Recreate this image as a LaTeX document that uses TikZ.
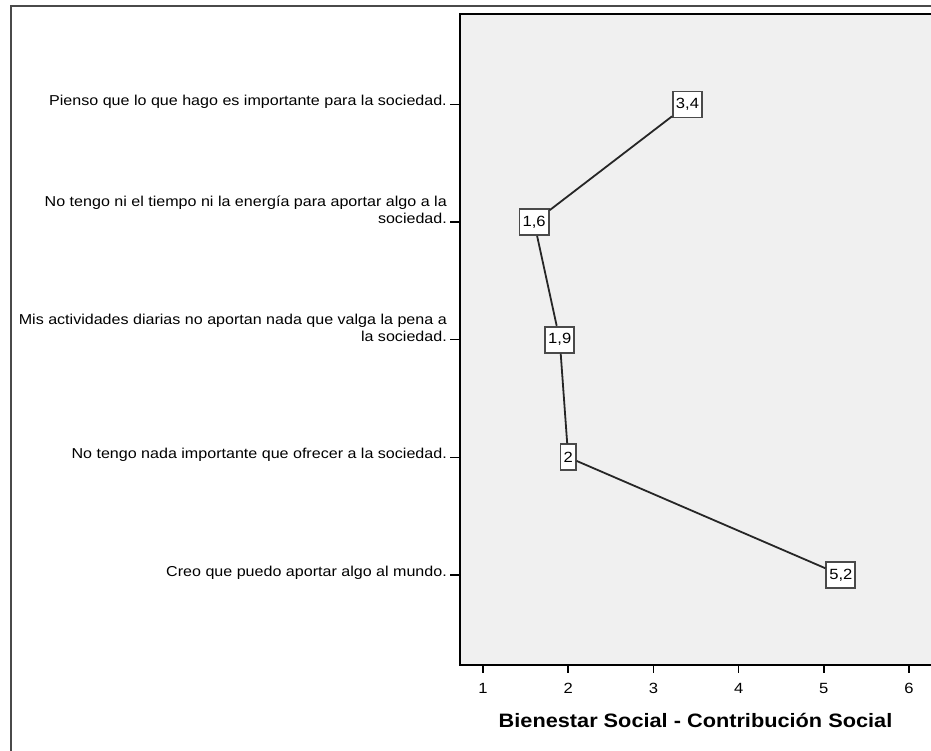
\documentclass[tikz,border=0pt]{standalone}
\usepackage{fontspec}
\setmainfont[FakeStretch=1.12]{Liberation Sans}
\usetikzlibrary{positioning}
\definecolor{plotbg}{HTML}{F0F0F0}
\definecolor{framegray}{HTML}{4A4A4A}
\definecolor{linegray}{HTML}{262626}

\begin{document}
\begin{tikzpicture}[x=1pt, y=-1pt,
    itemlabel/.style={anchor=base east, align=right, inner sep=0pt, font=\fontsize{14.35}{16.6}\selectfont},
    valbox/.style={draw=framegray, line width=1.8pt, fill=white, inner xsep=3pt, inner ysep=0pt, minimum height=26pt, font=\fontsize{14.8}{16}\selectfont},
    ticklabel/.style={anchor=base, inner sep=0pt, font=\fontsize{14.8}{16}\selectfont}]
    \clip (0,0) rectangle (931,751);
    \fill[white] (0,0) rectangle (931,751);

    % Outer frame
    \draw[framegray, line width=1.8pt] (11,6) rectangle (960,770);

    % Plot area
    \draw[fill=plotbg, line width=1.8pt] (460,14) rectangle (960,665);

    % Category axis
    \foreach \y in {104.5,222.1,339.7,457.3,574.9} \draw[line width=1.5pt] (450,\y) -- (460,\y);
    \node[itemlabel] (q1) at (447,106) {Pienso que lo que hago es importante para la sociedad.};
    \node[itemlabel] (q2) at (447,223.6) {No tengo ni el tiempo ni la energía para aportar algo a la\\sociedad.};
    \node[itemlabel] (q3) at (447,341.2) {Mis actividades diarias no aportan nada que valga la pena a\\la sociedad.};
    \node[itemlabel] (q4) at (447,458.8) {No tengo nada importante que ofrecer a la sociedad.};
    \node[itemlabel] (q5) at (447,576.4) {Creo que puedo aportar algo al mundo.};

    % Scale axis
    \foreach \v in {1,...,6} {
        \draw[line width=1.5pt] ({483+(\v-1)*85.2},665) -- ++(0,8);
        \node[ticklabel] (t\v) at ({483+(\v-1)*85.2},693.3) {\v};
    }
    \node[anchor=base, inner sep=0pt, font=\bfseries\fontsize{19.4}{22}\selectfont] (title) at (695.5,727.3) {Bienestar Social - Contribución Social};

    % Means
    \node[valbox] (p1) at (687.5,104.5) {3,4};
    \node[valbox] (p2) at (534.1,222.1) {1,6};
    \node[valbox] (p3) at (559.7,339.7) {1,9};
    \node[valbox] (p4) at (568.2,457.3) {2};
    \node[valbox] (p5) at (840.8,574.9) {5,2};
    \draw[linegray, line width=1.8pt] (p1) -- (p2) -- (p3) -- (p4) -- (p5);

\end{tikzpicture}
\end{document}
